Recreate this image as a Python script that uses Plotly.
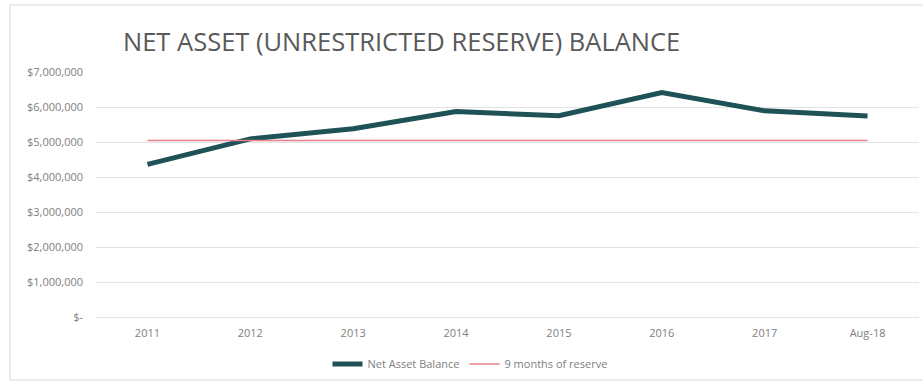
import plotly.graph_objects as go

categories = ["2011", "2012", "2013", "2014", "2015", "2016", "2017", "Aug-18"]
net_asset = [4360000, 5090000, 5380000, 5870000, 5750000, 6410000, 5890000, 5740000]
reserve = [5040000] * 8
ytick_vals = [0, 1000000, 2000000, 3000000, 4000000, 5000000, 6000000, 7000000]
ytick_text = ["$-", "$1,000,000", "$2,000,000", "$3,000,000", "$4,000,000",
              "$5,000,000", "$6,000,000", "$7,000,000"]

fig = go.Figure()
fig.add_trace(go.Scatter(x=categories, y=net_asset, mode="lines",
                         name="Net Asset Balance",
                         line=dict(color="#1E5257", width=5)))
fig.add_trace(go.Scatter(x=categories, y=reserve, mode="lines",
                         name="9 months of reserve",
                         line=dict(color="#E8808C", width=1.5)))

PH = 245.0
fig.update_layout(
    width=923, height=383,
    margin=dict(l=96, r=4, t=72, b=66, autoexpand=False),
    paper_bgcolor="white", plot_bgcolor="white",
    font=dict(family="Open Sans", color="#808080", size=11),
    title=dict(text="NET ASSET (UNRESTRICTED RESERVE) BALANCE",
               x=123/923, xanchor="left", y=1-42/383, yanchor="middle",
               font=dict(family="Open Sans", size=25.5, color="#595959")),
    xaxis=dict(type="category", range=[-0.5, 7.5], showgrid=False,
               showline=False, ticks="", ticklabelstandoff=8,
               tickfont=dict(size=11, color="#808080")),
    yaxis=dict(range=[0, 7000000], tickvals=ytick_vals, ticktext=ytick_text,
               showgrid=True, gridcolor="#e3e3e3", gridwidth=1,
               zeroline=True, zerolinecolor="#e3e3e3", zerolinewidth=1,
               showline=False, ticks="", ticklabelstandoff=12,
               tickfont=dict(size=11, color="#808080")),
    legend=dict(orientation="h", x=(470-96)/823, xanchor="center",
                y=-47/PH, yanchor="middle",
                font=dict(size=11, color="#808080"),
                bgcolor="rgba(0,0,0,0)"),
    showlegend=True,
)

fig.add_shape(type="rect", xref="paper", yref="paper",
              x0=-86/823, x1=1.02, y0=-63/PH, y1=1+67/PH,
              line=dict(color="#d9d9d9", width=1), layer="below")

fig.write_html("out.html")
